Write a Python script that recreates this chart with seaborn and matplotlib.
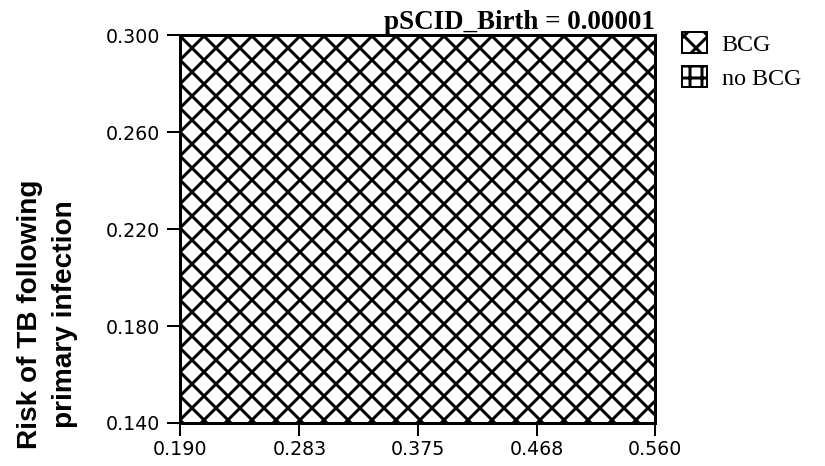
import numpy as np
import pandas as pd
import seaborn as sns
import matplotlib.pyplot as plt
from matplotlib.patches import Patch

# two-way sensitivity analysis: optimal strategy on a grid
x_edges = [0.190, 0.283, 0.375, 0.468, 0.560]
y_edges = [0.140, 0.180, 0.220, 0.260, 0.300]
optimal = [
    ["BCG", "BCG", "BCG", "BCG"],
    ["BCG", "BCG", "BCG", "BCG"],
    ["BCG", "BCG", "BCG", "BCG"],
    ["BCG", "BCG", "BCG", "BCG"],
]
strategies = ["BCG", "no BCG"]
hatches = {"BCG": "x", "no BCG": "+"}
title = "pSCID_Birth = 0.00001"

rows = []
for i in range(len(y_edges) - 1):
    for j in range(len(x_edges) - 1):
        rows.append({"x0": x_edges[j], "x1": x_edges[j + 1],
                     "y0": y_edges[i], "y1": y_edges[i + 1],
                     "strategy": optimal[i][j]})
df = pd.DataFrame(rows)

sns.set_theme(style="ticks")
plt.rcParams["hatch.linewidth"] = 3.0
plt.rcParams["hatch.color"] = "black"
plt.rcParams["text.color"] = "black"

# dpi 72 -> 1 pt == 1 px, and hatch cell matches the reference spacing
fig = plt.figure(figsize=(825 / 72, 466 / 72), dpi=72)
ax = fig.add_axes([180 / 825, 1 - 423 / 466, 475 / 825, 388 / 466])

for s, grp in df.groupby("strategy"):
    ax.bar(grp["x0"], grp["y1"] - grp["y0"], width=grp["x1"] - grp["x0"],
           bottom=grp["y0"], align="edge", color="white", edgecolor="black",
           linewidth=0, hatch=hatches[s], antialiased=False)

ax.set_xlim(x_edges[0], x_edges[-1])
ax.set_ylim(y_edges[0], y_edges[-1])
ax.set_xticks(x_edges)
ax.set_yticks(y_edges)
ax.set_xticklabels([f"{v:.3f}" for v in x_edges])
ax.set_yticklabels([f"{v:.3f}" for v in y_edges])
ax.tick_params(axis="both", length=13, width=2, color="black",
               labelsize=19, labelcolor="black", direction="out")
ax.tick_params(axis="y", pad=7)
ax.tick_params(axis="x", pad=4)
for sp in ax.spines.values():
    sp.set_linewidth(3)
    sp.set_color("black")
    sp.set_visible(True)

ax.set_ylabel("Risk of TB following\nprimary infection", fontsize=28,
              fontweight="bold", family="Liberation Sans", linespacing=1.45,
              color="black")
ax.yaxis.set_label_coords(-0.215, 0.28)
ax.set_xlabel("")
ax.set_title(title, loc="right", fontsize=27, fontweight="bold",
             family="Liberation Serif", pad=5, color="black")

handles = [Patch(facecolor="white", edgecolor="black", linewidth=2,
                 hatch=hatches[s]) for s in strategies]
fig.legend(handles, strategies, loc="upper left",
           bbox_to_anchor=(682 / 825, 1 - 32 / 466), frameon=False,
           borderpad=0, borderaxespad=0, handlelength=1.05, handleheight=0.95,
           handletextpad=0.6, labelspacing=0.45,
           prop={"family": "Liberation Serif", "size": 24})

fig.savefig("out.png", dpi=72)
